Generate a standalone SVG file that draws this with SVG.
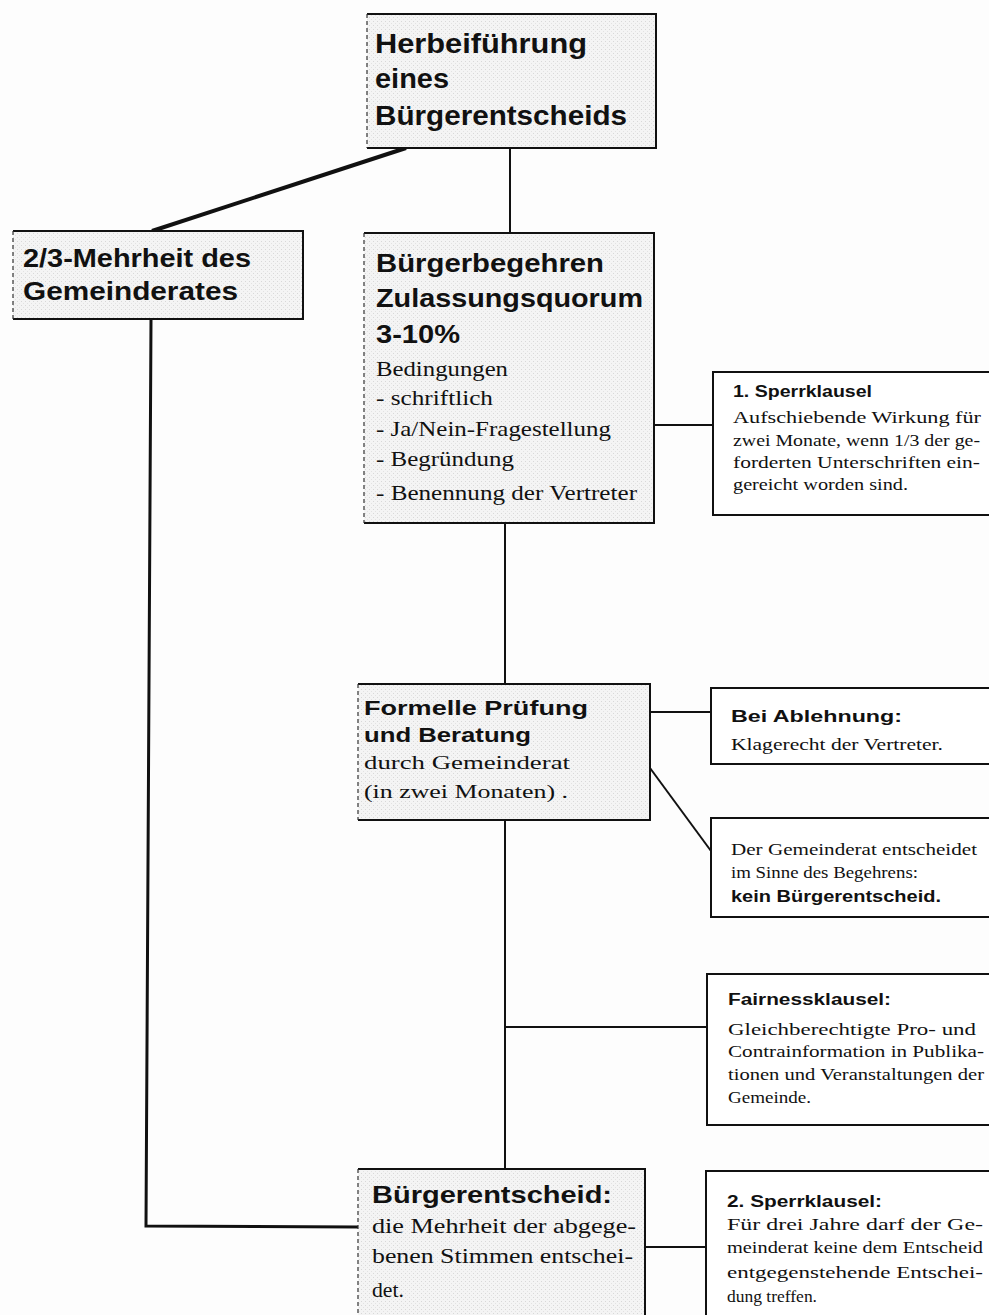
<svg xmlns="http://www.w3.org/2000/svg" width="989" height="1315" viewBox="0 0 989 1315">
<defs>
<pattern id="stip" width="4" height="4" patternUnits="userSpaceOnUse">
<rect width="4" height="4" fill="#f4f4f4"/>
<rect x="1" y="1" width="1" height="1" fill="#d8d8d8"/>
<rect x="3" y="3" width="1" height="1" fill="#e2e2e2"/>
</pattern>
</defs>
<style>
.bg{fill:#fdfdfd}
.main{fill:url(#stip)}
.edge{fill:none;stroke:#111;stroke-width:2}
.dash{fill:none;stroke:#333;stroke-width:1.2;stroke-dasharray:4 3}
.side{fill:#fff;stroke:#111;stroke-width:2}
.con{fill:none;stroke:#111;stroke-width:2}
.thick{fill:none;stroke:#111;stroke-width:4}
.h{font-family:"Liberation Sans",Arial,sans-serif;font-weight:bold;fill:#111}
.s{font-family:"Liberation Serif","Times New Roman",serif;fill:#111}
</style>
<rect class="bg" width="989" height="1315"/>

<g id="connectors">
<line class="thick" x1="406" y1="148" x2="152" y2="231"/>
<line class="con" x1="510" y1="148" x2="510" y2="233"/>
<polyline class="con" style="stroke-width:3" points="151,320 146,1226 358,1227"/>
<line class="con" x1="505" y1="523" x2="505" y2="684"/>
<line class="con" x1="505" y1="820" x2="505" y2="1169"/>
<line class="con" x1="654" y1="425" x2="713" y2="425"/>
<line class="con" x1="650" y1="712" x2="711" y2="712"/>
<line class="con" x1="650" y1="768" x2="711" y2="851"/>
<line class="con" x1="505" y1="1027" x2="707" y2="1027"/>
<line class="con" x1="645" y1="1247" x2="706" y2="1247"/>
</g>

<g id="herbeifuehrung">
<rect class="main" x="367" y="14" width="289" height="134"/>
<path class="edge" d="M367,14 H656 V148 H367"/>
<line class="dash" x1="367" y1="14" x2="367" y2="148"/>
<text class="h" font-size="27" x="375" y="53" textLength="212" lengthAdjust="spacingAndGlyphs">Herbeiführung</text>
<text class="h" font-size="27" x="375" y="88" textLength="74" lengthAdjust="spacingAndGlyphs">eines</text>
<text class="h" font-size="27" x="375" y="125" textLength="252" lengthAdjust="spacingAndGlyphs">Bürgerentscheids</text>
</g>

<g id="mehrheit">
<rect class="main" x="13" y="231" width="290" height="88"/>
<path class="edge" d="M13,231 H303 V319 H13"/>
<line class="dash" x1="13" y1="231" x2="13" y2="319"/>
<text class="h" font-size="26" x="23" y="267" textLength="228" lengthAdjust="spacingAndGlyphs">2/3-Mehrheit des</text>
<text class="h" font-size="26" x="23" y="300" textLength="215" lengthAdjust="spacingAndGlyphs">Gemeinderates</text>
</g>

<g id="buergerbegehren">
<rect class="main" x="364" y="233" width="290" height="290"/>
<path class="edge" d="M364,233 H654 V523 H364"/>
<line class="dash" x1="364" y1="233" x2="364" y2="523"/>
<text class="h" font-size="26" x="376" y="272" textLength="228" lengthAdjust="spacingAndGlyphs">Bürgerbegehren</text>
<text class="h" font-size="26" x="376" y="307" textLength="267" lengthAdjust="spacingAndGlyphs">Zulassungsquorum</text>
<text class="h" font-size="26" x="376" y="343" textLength="84" lengthAdjust="spacingAndGlyphs">3-10%</text>
<text class="s" font-size="21" x="376" y="376" textLength="132" lengthAdjust="spacingAndGlyphs">Bedingungen</text>
<text class="s" font-size="21" x="376" y="405" textLength="117" lengthAdjust="spacingAndGlyphs">- schriftlich</text>
<text class="s" font-size="21" x="376" y="436" textLength="235" lengthAdjust="spacingAndGlyphs">- Ja/Nein-Fragestellung</text>
<text class="s" font-size="21" x="376" y="466" textLength="138" lengthAdjust="spacingAndGlyphs">- Begründung</text>
<text class="s" font-size="21" x="376" y="500" textLength="261" lengthAdjust="spacingAndGlyphs">- Benennung der Vertreter</text>
</g>

<g id="sperrklausel1">
<rect class="side" x="713" y="372" width="290" height="143"/>
<text class="h" font-size="16" x="733" y="397" textLength="139" lengthAdjust="spacingAndGlyphs">1. Sperrklausel</text>
<text class="s" font-size="17" x="733" y="423" textLength="248" lengthAdjust="spacingAndGlyphs">Aufschiebende Wirkung für</text>
<text class="s" font-size="17" x="733" y="446" textLength="247" lengthAdjust="spacingAndGlyphs">zwei Monate, wenn 1/3 der ge-</text>
<text class="s" font-size="17" x="733" y="468" textLength="247" lengthAdjust="spacingAndGlyphs">forderten Unterschriften ein-</text>
<text class="s" font-size="17" x="733" y="490" textLength="175" lengthAdjust="spacingAndGlyphs">gereicht worden sind.</text>
</g>

<g id="pruefung">
<rect class="main" x="358" y="684" width="292" height="136"/>
<path class="edge" d="M358,684 H650 V820 H358"/>
<line class="dash" x1="358" y1="684" x2="358" y2="820"/>
<text class="h" font-size="21" x="364" y="715" textLength="224" lengthAdjust="spacingAndGlyphs">Formelle Prüfung</text>
<text class="h" font-size="21" x="364" y="742" textLength="167" lengthAdjust="spacingAndGlyphs">und Beratung</text>
<text class="s" font-size="19" x="364" y="769" textLength="206" lengthAdjust="spacingAndGlyphs">durch Gemeinderat</text>
<text class="s" font-size="19" x="364" y="798" textLength="204" lengthAdjust="spacingAndGlyphs">(in zwei Monaten) .</text>
</g>

<g id="ablehnung">
<rect class="side" x="711" y="688" width="290" height="76"/>
<text class="h" font-size="17" x="731" y="722" textLength="171" lengthAdjust="spacingAndGlyphs">Bei Ablehnung:</text>
<text class="s" font-size="17" x="731" y="750" textLength="212" lengthAdjust="spacingAndGlyphs">Klagerecht der Vertreter.</text>
</g>

<g id="kein-entscheid">
<rect class="side" x="711" y="818" width="290" height="99"/>
<text class="s" font-size="17" x="731" y="855" textLength="246" lengthAdjust="spacingAndGlyphs">Der Gemeinderat entscheidet</text>
<text class="s" font-size="17" x="731" y="878" textLength="187" lengthAdjust="spacingAndGlyphs">im Sinne des Begehrens:</text>
<text class="h" font-size="17" x="731" y="902" textLength="210" lengthAdjust="spacingAndGlyphs">kein Bürgerentscheid.</text>
</g>

<g id="fairness">
<rect class="side" x="707" y="974" width="290" height="151"/>
<text class="h" font-size="16" x="728" y="1005" textLength="163" lengthAdjust="spacingAndGlyphs">Fairnessklausel:</text>
<text class="s" font-size="17" x="728" y="1035" textLength="248" lengthAdjust="spacingAndGlyphs">Gleichberechtigte Pro- und</text>
<text class="s" font-size="17" x="728" y="1057" textLength="256" lengthAdjust="spacingAndGlyphs">Contrainformation in Publika-</text>
<text class="s" font-size="17" x="728" y="1080" textLength="256" lengthAdjust="spacingAndGlyphs">tionen und Veranstaltungen der</text>
<text class="s" font-size="17" x="728" y="1103" textLength="83" lengthAdjust="spacingAndGlyphs">Gemeinde.</text>
</g>

<g id="buergerentscheid">
<rect class="main" x="358" y="1169" width="287" height="160"/>
<path class="edge" d="M358,1169 H645 V1330"/>
<line class="dash" x1="358" y1="1169" x2="358" y2="1315"/>
<text class="h" font-size="24" x="372" y="1203" textLength="240" lengthAdjust="spacingAndGlyphs">Bürgerentscheid:</text>
<text class="s" font-size="20" x="372" y="1233" textLength="264" lengthAdjust="spacingAndGlyphs">die Mehrheit der abgege-</text>
<text class="s" font-size="20" x="372" y="1263" textLength="261" lengthAdjust="spacingAndGlyphs">benen Stimmen entschei-</text>
<text class="s" font-size="20" x="372" y="1297" textLength="32" lengthAdjust="spacingAndGlyphs">det.</text>
</g>

<g id="sperrklausel2">
<rect class="side" x="706" y="1171" width="290" height="160"/>
<text class="h" font-size="16" x="727" y="1207" textLength="155" lengthAdjust="spacingAndGlyphs">2. Sperrklausel:</text>
<text class="s" font-size="17" x="727" y="1230" textLength="256" lengthAdjust="spacingAndGlyphs">Für drei Jahre darf der Ge-</text>
<text class="s" font-size="17" x="727" y="1253" textLength="256" lengthAdjust="spacingAndGlyphs">meinderat keine dem Entscheid</text>
<text class="s" font-size="17" x="727" y="1278" textLength="256" lengthAdjust="spacingAndGlyphs">entgegenstehende Entschei-</text>
<text class="s" font-size="17" x="727" y="1302" textLength="90" lengthAdjust="spacingAndGlyphs">dung treffen.</text>
</g>
</svg>
